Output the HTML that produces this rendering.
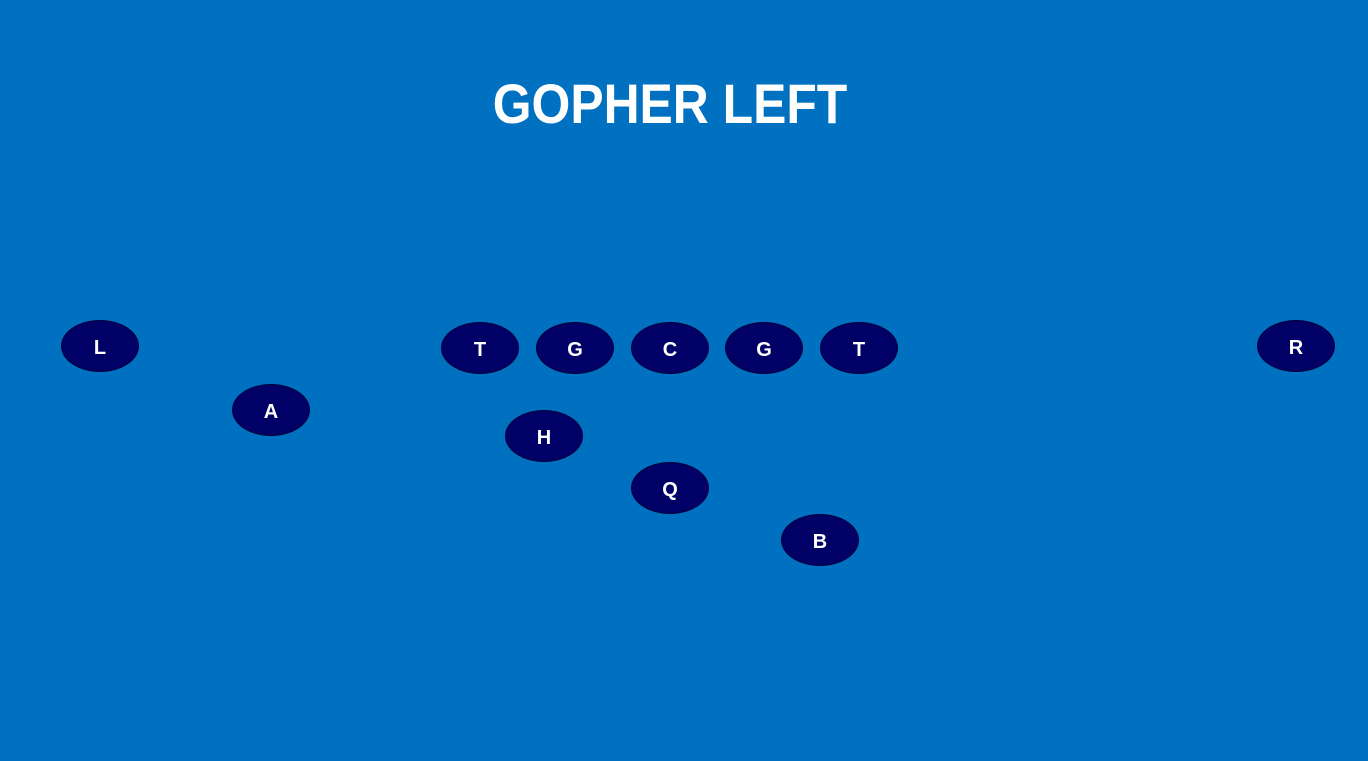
<!DOCTYPE html>
<html><head><meta charset="utf-8"><style>
html,body{margin:0;padding:0;}
body{width:1368px;height:761px;background:#0070C0;position:relative;overflow:hidden;font-family:"Liberation Sans",sans-serif;}
.t{position:absolute;left:670px;top:72px;font-size:56px;font-weight:bold;color:#fff;white-space:nowrap;transform:translateX(-50%) scaleX(0.89);line-height:64px;}
.e{position:absolute;width:76px;height:50px;margin:-26px 0 0 -39px;border:1px solid #00003a;border-radius:50%;background:#000066;color:#fff;font-weight:bold;font-size:20px;line-height:54px;text-align:center;}
</style></head><body>
<div class="t">GOPHER LEFT</div>
<div class="e" style="left:100px;top:346px">L</div>
<div class="e" style="left:271px;top:410px">A</div>
<div class="e" style="left:480px;top:348px">T</div>
<div class="e" style="left:575px;top:348px">G</div>
<div class="e" style="left:670px;top:348px">C</div>
<div class="e" style="left:764px;top:348px">G</div>
<div class="e" style="left:859px;top:348px">T</div>
<div class="e" style="left:1296px;top:346px">R</div>
<div class="e" style="left:544px;top:436px">H</div>
<div class="e" style="left:670px;top:488px">Q</div>
<div class="e" style="left:820px;top:540px">B</div>
</body></html>
